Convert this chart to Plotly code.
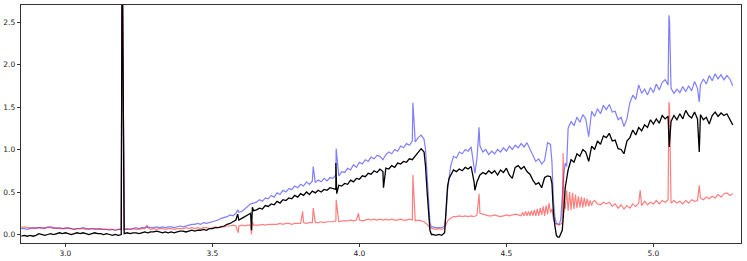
import numpy as np
import plotly.graph_objects as go

# regular wavelength grid (microns), 2.85 .. 5.27 step 0.01
wl_grid = [round(2.85 + 0.01 * i, 2) for i in range(243)]

blue_flux = [
    0.07, 0.07, 0.06, 0.07, 0.08, 0.07, 0.08, 0.08, 0.07, 0.09,
    0.09, 0.08, 0.07, 0.08, 0.07, 0.07, 0.08, 0.07, 0.06, 0.07,
    0.07, 0.08, 0.07, 0.06, 0.07, 0.07, 0.06, 0.07, 0.06, 0.06,
    0.05, 0.06, 0.05, 0.06, 0.06, 0.06, 0.07, 0.06, 0.07, 0.08,
    0.07, 0.08, 0.08, 0.09, 0.08, 0.08, 0.09, 0.08, 0.09, 0.08,
    0.09, 0.09, 0.08, 0.09, 0.10, 0.09, 0.10, 0.11, 0.12, 0.12,
    0.13, 0.12, 0.14, 0.13, 0.14, 0.15, 0.16, 0.17, 0.19, 0.20,
    0.21, 0.23, 0.22, 0.25, 0.26, 0.27, 0.30, 0.33, 0.36, 0.37,
    0.38, 0.41, 0.39, 0.43, 0.42, 0.46, 0.44, 0.49, 0.47, 0.52,
    0.50, 0.54, 0.53, 0.57, 0.55, 0.59, 0.57, 0.62, 0.59, 0.63,
    0.61, 0.64, 0.62, 0.66, 0.63, 0.67, 0.66, 0.70, 0.69, 0.74,
    0.73, 0.78, 0.76, 0.82, 0.79, 0.85, 0.83, 0.88, 0.86, 0.91,
    0.89, 0.93, 0.92, 0.88, 0.94, 0.97, 0.95, 1.00, 0.98, 1.04,
    1.02, 1.07, 1.05, 1.10, 1.09, 1.14, 1.17, 1.12, 0.72, 0.14,
    0.09, 0.08, 0.08, 0.08, 0.10, 0.52, 0.80, 0.92, 0.90, 0.97,
    0.95, 1.00, 0.98, 1.03, 0.82, 0.90, 1.04, 0.97, 1.00, 0.94,
    0.98, 0.95, 1.00, 0.97, 1.02, 0.98, 1.04, 1.00, 1.05, 1.02,
    1.07, 1.03, 1.08, 1.00, 0.94, 0.86, 0.89, 0.83, 0.87, 1.08,
    1.06, 0.40, 0.13, 0.12, 0.45, 0.84, 1.25, 1.33, 1.28, 1.38,
    1.32, 1.41, 1.36, 1.15, 1.45, 1.39, 1.48, 1.42, 1.52, 1.47,
    1.53, 1.44, 1.45, 1.35, 1.38, 1.27, 1.36, 1.55, 1.64, 1.59,
    1.76, 1.66, 1.71, 1.64, 1.73, 1.67, 1.77, 1.70, 1.79, 1.82,
    1.76, 1.72, 1.66, 1.71, 1.67, 1.74, 1.68, 1.75, 1.69, 1.80,
    1.72, 1.76, 1.83, 1.77, 1.87, 1.81, 1.89, 1.83, 1.88, 1.82,
    1.87, 1.83, 1.75,
]

black_flux = [
    -0.02, -0.01, -0.02, -0.01, -0.02, -0.01, 0.01, 0.00, -0.01, 0.00,
    0.01, 0.00, 0.01, 0.02, 0.01, 0.02, 0.01, 0.00, 0.01, 0.02,
    0.01, 0.02, 0.01, 0.00, 0.01, 0.02, 0.01, 0.01, 0.00, 0.01,
    0.00, -0.01, 0.00, -0.01, 0.00, 0.01, 0.02, 0.01, 0.02, 0.02,
    0.01, 0.02, 0.03, 0.02, 0.03, 0.03, 0.04, 0.03, 0.02, 0.03,
    0.02, 0.03, 0.02, 0.03, 0.04, 0.04, 0.03, 0.04, 0.05, 0.04,
    0.05, 0.05, 0.06, 0.05, 0.07, 0.07, 0.08, 0.08, 0.09, 0.10,
    0.12, 0.13, 0.15, 0.17, 0.17, 0.19, 0.21, 0.22, 0.25, 0.28,
    0.29, 0.31, 0.30, 0.34, 0.33, 0.36, 0.35, 0.39, 0.37, 0.41,
    0.40, 0.43, 0.42, 0.46, 0.44, 0.48, 0.46, 0.50, 0.47, 0.51,
    0.49, 0.52, 0.50, 0.53, 0.52, 0.55, 0.54, 0.53, 0.58, 0.57,
    0.60, 0.59, 0.64, 0.62, 0.66, 0.65, 0.69, 0.68, 0.72, 0.71,
    0.75, 0.73, 0.77, 0.74, 0.78, 0.77, 0.81, 0.79, 0.84, 0.83,
    0.86, 0.85, 0.89, 0.88, 0.92, 0.96, 1.01, 0.97, 0.52, 0.05,
    0.00, -0.01, 0.00, -0.01, 0.02, 0.57, 0.70, 0.76, 0.74, 0.77,
    0.75, 0.79, 0.77, 0.80, 0.62, 0.62, 0.70, 0.73, 0.71, 0.75,
    0.72, 0.75, 0.70, 0.76, 0.73, 0.78, 0.70, 0.66, 0.79, 0.81,
    0.77, 0.80, 0.74, 0.71, 0.64, 0.59, 0.61, 0.55, 0.67, 0.69,
    0.68, 0.25, -0.01, -0.03, 0.05, 0.55, 0.76, 0.88, 0.85, 0.95,
    0.92, 1.00, 0.97, 0.86, 1.04, 1.00, 1.10, 1.06, 1.16, 1.14,
    1.19, 1.10, 1.11, 1.01, 1.00, 0.95, 1.10, 1.14, 1.23, 1.17,
    1.26, 1.22, 1.29, 1.26, 1.35, 1.30, 1.36, 1.31, 1.40, 1.36,
    1.39, 1.33, 1.40, 1.35, 1.42, 1.36, 1.46, 1.40, 1.37, 1.44,
    1.36, 1.41, 1.35, 1.38, 1.30, 1.40, 1.44, 1.39, 1.43, 1.40,
    1.42, 1.36, 1.29,
]

red_flux = [
    0.08, 0.09, 0.08, 0.08, 0.07, 0.08, 0.08, 0.07, 0.08, 0.08,
    0.08, 0.07, 0.08, 0.07, 0.07, 0.08, 0.07, 0.07, 0.06, 0.07,
    0.07, 0.07, 0.06, 0.07, 0.07, 0.06, 0.07, 0.06, 0.06, 0.06,
    0.06, 0.06, 0.05, 0.06, 0.06, 0.06, 0.06, 0.06, 0.07, 0.06,
    0.06, 0.07, 0.07, 0.08, 0.06, 0.07, 0.06, 0.07, 0.07, 0.06,
    0.07, 0.07, 0.06, 0.07, 0.07, 0.07, 0.08, 0.07, 0.08, 0.07,
    0.08, 0.07, 0.08, 0.08, 0.07, 0.08, 0.09, 0.08, 0.09, 0.09,
    0.10, 0.10, 0.11, 0.10, 0.10, 0.11, 0.10, 0.11, 0.11, 0.11,
    0.11, 0.11, 0.12, 0.11, 0.12, 0.12, 0.12, 0.12, 0.13, 0.12,
    0.13, 0.13, 0.12, 0.13, 0.13, 0.13, 0.14, 0.13, 0.14, 0.14,
    0.14, 0.14, 0.15, 0.14, 0.15, 0.15, 0.15, 0.16, 0.15, 0.16,
    0.16, 0.16, 0.17, 0.16, 0.17, 0.17, 0.16, 0.17, 0.18, 0.17,
    0.18, 0.17, 0.18, 0.17, 0.18, 0.17, 0.18, 0.17, 0.17, 0.18,
    0.17, 0.17, 0.18, 0.17, 0.16, 0.17, 0.16, 0.15, 0.12, 0.08,
    0.07, 0.06, 0.07, 0.06, 0.08, 0.16, 0.19, 0.21, 0.21, 0.22,
    0.21, 0.22, 0.21, 0.22, 0.21, 0.23, 0.25, 0.24, 0.23, 0.22,
    0.22, 0.23, 0.22, 0.21, 0.22, 0.23, 0.22, 0.23, 0.24, 0.23,
    0.22, 0.22, 0.22, 0.22, 0.22, 0.22, 0.22, 0.23, 0.22, 0.24,
    0.26, 0.18, 0.12, 0.11, 0.14, 0.30, 0.28, 0.29, 0.30, 0.31,
    0.32, 0.32, 0.33, 0.33, 0.34, 0.40, 0.36, 0.35, 0.38, 0.36,
    0.38, 0.33, 0.36, 0.31, 0.35, 0.30, 0.34, 0.31, 0.36, 0.33,
    0.37, 0.34, 0.39, 0.35, 0.38, 0.36, 0.40, 0.36, 0.40, 0.38,
    0.41, 0.37, 0.40, 0.37, 0.39, 0.36, 0.40, 0.37, 0.41, 0.39,
    0.40, 0.43, 0.41, 0.44, 0.42, 0.45, 0.43, 0.47, 0.44, 0.48,
    0.49, 0.46, 0.48,
]

# narrow features (spikes, dips, steep edges) between grid points
blue_feat_wl = [3.191, 3.193, 3.586, 3.843, 3.921, 4.182, 4.225, 4.235, 4.245,
                4.295, 4.305, 4.393, 4.407, 4.655, 4.665, 4.685, 4.695, 4.705,
                5.053, 5.055, 5.156]
blue_feat_flux = [3.6, 3.6, 0.29, 0.80, 1.01, 1.55, 1.00, 0.35, 0.09,
                  0.25, 0.70, 0.72, 1.26, 0.85, 0.20, 0.18, 0.70, 0.80,
                  2.58, 2.50, 1.56]

black_feat_wl = [3.191, 3.193, 3.586, 3.633, 3.636, 3.920, 3.923, 4.082, 4.225,
                 4.235, 4.245, 4.285, 4.295, 4.305, 4.393, 4.655, 4.665, 4.675,
                 4.685, 4.695, 5.054, 5.156]
black_feat_flux = [3.6, 3.6, 0.24, 0.05, 0.32, 0.84, 0.48, 0.55, 0.80,
                   0.25, 0.00, 0.00, 0.30, 0.66, 0.52, 0.60, 0.10, -0.03,
                   0.01, 0.28, 1.03, 0.97]

red_feat_wl = [3.191, 3.193, 3.278, 3.588, 3.633, 3.636, 3.807, 3.843, 3.921,
               3.997, 4.182, 4.407, 4.555, 4.565, 4.575, 4.585, 4.595, 4.605,
               4.615, 4.625, 4.635, 4.645, 4.655, 4.665, 4.691, 4.693, 4.696,
               4.705, 4.715, 4.725, 4.735, 4.745, 4.755, 4.765, 4.775, 4.785,
               4.795, 4.955, 5.053, 5.055, 5.156]
red_feat_flux = [3.6, 3.6, 0.11, 0.02, 0.00, 0.15, 0.27, 0.31, 0.41,
                 0.25, 0.70, 0.48, 0.26, 0.27, 0.27, 0.28, 0.29, 0.30,
                 0.31, 0.33, 0.34, 0.37, 0.30, 0.13, 0.30, 0.96, 0.35,
                 0.52, 0.50, 0.49, 0.47, 0.45, 0.44, 0.43, 0.42, 0.40,
                 0.39, 0.52, 1.56, 1.50, 0.58]


def merged(flux, feat_wl, feat_flux):
    x = np.array(wl_grid + feat_wl, dtype=float)
    y = np.array(flux + feat_flux, dtype=float)
    order = np.argsort(x, kind="stable")
    return x[order], y[order]


fig = go.Figure()
for flux, fwl, ffl, color, width in [
    (blue_flux, blue_feat_wl, blue_feat_flux, "rgba(0,0,255,0.5)", 1.2),
    (red_flux, red_feat_wl, red_feat_flux, "rgba(255,0,0,0.5)", 1.2),
    (black_flux, black_feat_wl, black_feat_flux, "black", 1.3),
]:
    x, y = merged(flux, fwl, ffl)
    fig.add_trace(go.Scatter(x=x, y=y, mode="lines",
                             line=dict(color=color, width=width),
                             hoverinfo="skip", showlegend=False))

axis_common = dict(showgrid=False, zeroline=False, showline=True, mirror=True,
                   linecolor="black", linewidth=0.8, ticks="outside",
                   ticklen=3.5, tickwidth=0.8, tickcolor="black",
                   automargin=False,
                   tickfont=dict(family="DejaVu Sans", size=7.5, color="#222"))

fig.update_xaxes(range=[2.849, 5.298], tickvals=[3.0, 3.5, 4.0, 4.5, 5.0],
                 ticktext=["3.0", "3.5", "4.0", "4.5", "5.0"], **axis_common)
fig.update_yaxes(range=[-0.1, 2.7], tickvals=[0.0, 0.5, 1.0, 1.5, 2.0, 2.5],
                 ticktext=["0.0", "0.5", "1.0", "1.5", "2.0", "2.5"], **axis_common)

fig.update_layout(width=747, height=261, margin=dict(l=21, r=6, t=5, b=18),
                  plot_bgcolor="white", paper_bgcolor="white")

fig.write_html("out.html",
               config={"displayModeBar": False, "staticPlot": True},
               post_script="document.body.style.margin='0';"
                           "document.body.style.overflow='hidden';")
